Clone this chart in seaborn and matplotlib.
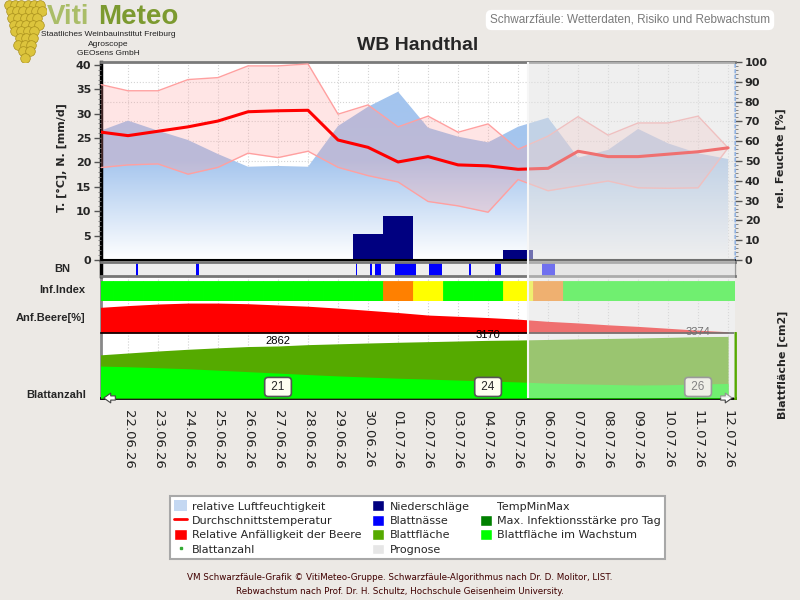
import numpy as np
import seaborn as sns
import matplotlib.pyplot as plt
import matplotlib.transforms as mtransforms
from matplotlib.colors import LinearSegmentedColormap
from matplotlib.patches import Patch
from matplotlib.lines import Line2D
from matplotlib.ticker import MultipleLocator

# --- data --------------------------------------------------------------------
dates = ['21.06.26', '22.06.26', '23.06.26', '24.06.26', '25.06.26', '26.06.26',
         '27.06.26', '28.06.26', '29.06.26', '30.06.26', '01.07.26', '02.07.26',
         '03.07.26', '04.07.26', '05.07.26', '06.07.26', '07.07.26', '08.07.26',
         '09.07.26', '10.07.26', '11.07.26', '12.07.26']
humidity = [64.8, 70.4, 65.3, 60.6, 53.5, 47.1, 47.5, 47.1, 67.7, 77.4, 85.0,
            66.8, 62.3, 59.4, 67.3, 71.9, 51.7, 55.6, 66.2, 58.9, 53.9, 51.0]
temp_mean = [26.3, 25.5, 26.4, 27.3, 28.5, 30.4, 30.6, 30.7, 24.6, 23.1, 20.1,
             21.2, 19.5, 19.3, 18.6, 18.8, 22.3, 21.2, 21.2, 21.7, 22.2, 23.0]
temp_max = [36.1, 34.7, 34.7, 37.0, 37.4, 39.8, 39.8, 40.2, 29.9, 31.8, 27.3,
            29.5, 26.2, 27.9, 22.7, 25.4, 29.4, 25.6, 28.1, 28.1, 29.5, 23.0]
temp_min = [18.9, 19.5, 19.7, 17.6, 19.0, 21.9, 21.0, 22.3, 19.0, 17.3, 16.0,
            12.0, 11.1, 9.8, 16.5, 14.2, 15.2, 16.2, 14.8, 14.7, 14.8, 23.0]
precip = [0, 0, 0, 0, 0, 0, 0, 0, 0, 5.3, 9.0,
          0, 0, 0, 2.1, 0, 0, 0, 0, 0, 0, 0]
# infection index per day: 0 = low (green), 1 = medium (yellow), 2 = high (orange)
inf_index = [0, 0, 0, 0, 0, 0, 0, 0, 0, 0, 2,
             1, 0, 0, 1, 2, 0, 0, 0, 0, 0, 0]
inf_colors = ['#00ff00', '#ffff00', '#ff8000']
# leaf wetness periods (start in days after 22.06., length in days)
bn_start = [0.27, 2.28, 7.6, 8.07, 8.23, 8.9, 10.03, 11.37, 12.23, 13.8]
bn_length = [0.07, 0.1, 0.04, 0.05, 0.2, 0.7, 0.43, 0.07, 0.2, 0.43]
berry_risk = [81, 87, 92, 95, 95, 93, 89, 85, 79, 72, 65,
              57, 53, 49, 44, 37, 32, 26, 21, 15, 9, 4]
leaf_area = [2365, 2475, 2585, 2680, 2760, 2830, 2862, 2935, 2980, 3025, 3065,
             3100, 3135, 3170, 3190, 3220, 3250, 3275, 3300, 3335, 3374, 3390]
leaf_growth = [1760, 1720, 1665, 1610, 1530, 1450, 1370, 1290, 1215, 1150, 1090,
               1040, 985, 935, 885, 820, 780, 745, 715, 730, 770, 800]
count_dates = ['27.06.26', '04.07.26', '11.07.26']
leaf_count = [21, 24, 26]
prognosis_from = 13.33  # 05.07.26 morning

sns.set_style('white')
plt.rcParams['font.family'] = ['DejaVu Sans']

W, H = 800, 600
pos = np.arange(len(dates)) - 1
x0, x1 = -0.9, 20.23


def rect(l, t, r, b):
    return [l / W, 1 - b / H, (r - l) / W, (b - t) / H]


fig = plt.figure(figsize=(8, 6), dpi=100, facecolor='#ece9e5')

# --- main panel: humidity (right) and temperature / rain (left) -------------
ax_h = fig.add_axes(rect(101, 62, 735, 260))
ax_h.set_facecolor('white')
hum_poly = ax_h.fill_between(pos, humidity, 0, color='none', lw=0)
cmap = LinearSegmentedColormap.from_list('hum', ['#ffffff', '#a6c6ee', '#a2c3ee'])
grad = np.linspace(0, 1, 256).reshape(-1, 1)
img = ax_h.imshow(grad, extent=[x0, x1, 0, 100], origin='lower', aspect='auto',
                  cmap=cmap, zorder=1)
img.set_clip_path(hum_poly.get_paths()[0], transform=ax_h.transData)

ax_t = ax_h.twinx()
ax_t.fill_between(pos, temp_min, temp_max, color='#ff9a9a', alpha=0.25, lw=0, zorder=2)
sns.lineplot(x=pos, y=temp_max, ax=ax_t, color='#ffa0a0', linewidth=1)
sns.lineplot(x=pos, y=temp_min, ax=ax_t, color='#ffa0a0', linewidth=1)
sns.lineplot(x=pos, y=temp_mean, ax=ax_t, color='#ff0000', linewidth=2.2)
ax_t.bar(pos, precip, width=1, color='#000080', lw=0, zorder=5)
ax_t.axhline(0, color='black', lw=1.5, clip_on=False, zorder=6)

ax_h.set_xlim(x0, x1)
ax_h.set_ylim(0, 100)
ax_t.set_ylim(0, 40.6)
ax_t.yaxis.tick_left()
ax_t.set_yticks(range(0, 41, 5))
ax_t.yaxis.set_minor_locator(MultipleLocator(1))
ax_h.yaxis.tick_right()
ax_h.set_yticks(range(0, 101, 10))
ax_h.yaxis.set_minor_locator(MultipleLocator(2))
ax_h.set_xticks(pos[1:])
ax_h.tick_params(axis='x', length=0, labelbottom=False)
ax_h.grid(True, ls=':', color='#d4d4d4', lw=0.8)
ax_h.set_axisbelow(True)
for a in (ax_h, ax_t):
    a.tick_params(axis='y', which='major', length=5, width=1, color='#555',
                  labelsize=8, pad=2)
    a.tick_params(axis='y', which='minor', length=2.5, color='#777')
    for lab in a.get_yticklabels():
        lab.set_fontweight('bold')
    a.set_xlabel('')
    a.set_ylabel('')
for s in ax_t.spines.values():
    s.set_visible(False)
ax_h.spines['left'].set(color='black', lw=2.5)
ax_h.spines['top'].set(color='#7a7a7a', lw=2)
ax_h.spines['right'].set(color='#8fb3e6', lw=1.5, ls=':')
ax_h.spines['bottom'].set_visible(False)

# --- lower panel background with date axis ---------------------------------
ax_bg = fig.add_axes(rect(101, 276, 735, 398))
ax_bg.set_facecolor('white')
ax_bg.set_xlim(x0, x1)
ax_bg.set_ylim(0, 1)
ax_bg.set_xticks(pos[1:])
ax_bg.set_xticklabels(dates[1:], rotation=270, ha='center', va='top',
                      fontsize=9.5, color='#222')
ax_bg.xaxis.set_minor_locator(MultipleLocator(0.25))
ax_bg.tick_params(axis='x', which='major', length=4, color='#555', pad=5)
ax_bg.tick_params(axis='x', which='minor', length=2.5, color='#888')
ax_bg.set_yticks([])
ax_bg.grid(axis='x', ls=':', color='#d0d0d0', lw=0.8)
ax_bg.spines['left'].set(color='#888', lw=2)
ax_bg.spines['bottom'].set(color='black', lw=2)
ax_bg.spines[['top', 'right']].set_visible(False)

# leaf wetness strip
ax_bn = fig.add_axes(rect(101, 262, 735, 276))
ax_bn.set_facecolor('#eeeeee')
ax_bn.bar(bn_start, 1, width=bn_length, align='edge', color='#0000ff', lw=0)
ax_bn.set_xlim(x0, x1)
ax_bn.set_ylim(0, 1)
ax_bn.set_xticks([])
ax_bn.set_yticks([])
ax_bn.spines['top'].set(color='#777', lw=2)
ax_bn.spines['bottom'].set(color='#777', lw=2)
ax_bn.spines['left'].set(color='black', lw=2.5)
ax_bn.spines['right'].set(color='#999', lw=1)

# infection index strip
ax_inf = fig.add_axes(rect(101, 281, 735, 300.7))
ax_inf.patch.set_visible(False)
day_cols = [inf_colors[k] for k in inf_index]
ax_inf.bar(pos, 1, width=1, color=day_cols, ec=day_cols, lw=0.6)
ax_inf.set_xlim(x0, x1)
ax_inf.set_ylim(0, 1)
ax_inf.axis('off')

# berry susceptibility strip
ax_anf = fig.add_axes(rect(101, 301.5, 735, 333))
ax_anf.patch.set_visible(False)
ax_anf.fill_between(pos, berry_risk, 0, color='#ff0000', lw=0)
ax_anf.set_xlim(x0, x1)
ax_anf.set_ylim(0, 100)
ax_anf.set_xticks([])
ax_anf.set_yticks([])
ax_anf.spines[['top', 'left', 'right']].set_visible(False)
ax_anf.spines['bottom'].set(color='black', lw=1.2)

# leaf area strip
ax_leaf = fig.add_axes(rect(101, 333, 735, 398))
ax_leaf.patch.set_visible(False)
ax_leaf.fill_between(pos, leaf_area, 0, color='#55aa00', lw=0)
ax_leaf.fill_between(pos, leaf_growth, 0, color='#00ff00', lw=0)
ax_leaf.set_xlim(x0, x1)
ax_leaf.set_ylim(0, 3575)
ax_leaf.set_xticks([])
ax_leaf.set_yticks([])
ax_leaf.spines[['top', 'left', 'bottom']].set_visible(False)
ax_leaf.spines['right'].set(color='#55aa00', lw=2)
blend = mtransforms.blended_transform_factory(ax_leaf.transData, ax_leaf.transAxes)
for d, n in zip(count_dates, leaf_count):
    k = dates.index(d)
    ax_leaf.text(pos[k], leaf_area[k], str(leaf_area[k]), ha='center', va='bottom',
                 fontsize=8, family='Liberation Sans', color='black')
    ax_leaf.text(pos[k], 0.17, f' {n} ', transform=blend, ha='center', va='center',
                 fontsize=8.5, family='Liberation Sans',
                 bbox=dict(boxstyle='round,pad=0.3', fc='#fffff0', ec='#555', lw=1.2))
arrow = dict(arrowstyle='simple,head_length=0.5,head_width=0.7,tail_width=0.3',
             fc='white', ec='#444', lw=0.8)
ax_leaf.annotate('', xy=(0.0, 0), xytext=(0.027, 0), xycoords='axes fraction',
                 arrowprops=arrow, annotation_clip=False)
ax_leaf.annotate('', xy=(1.0, 0), xytext=(0.973, 0), xycoords='axes fraction',
                 arrowprops=arrow, annotation_clip=False)

# prognosis overlay across all panels
ax_ov = fig.add_axes(rect(101, 62, 735, 398), zorder=10)
ax_ov.set_xlim(x0, x1)
ax_ov.axis('off')
ax_ov.axvspan(prognosis_from, x1, color='#e0e0e0', alpha=0.5, lw=0)
ax_ov.axvline(prognosis_from, color='#f6f6f6', lw=1.5)

# --- labels -------------------------------------------------------------------
fig.text(62 / W, 1 - 158 / H, 'T. [°C], N. [mm/d]', rotation=90, ha='center',
         va='center', fontsize=8, fontweight='bold')
fig.text(781 / W, 1 - 158 / H, 'rel. Feuchte [%]', rotation=90, ha='center',
         va='center', fontsize=8, fontweight='bold')
fig.text(783 / W, 1 - 365 / H, 'Blattfläche [cm2]', rotation=90, ha='center',
         va='center', fontsize=8, fontweight='bold')
strip_font = dict(fontsize=8, fontweight='bold', family='Liberation Sans', va='center')
fig.text(62 / W, 1 - 269 / H, 'BN', ha='center', **strip_font)
fig.text(85 / W, 1 - 290 / H, 'Inf.Index', ha='right', **strip_font)
fig.text(85 / W, 1 - 318 / H, 'Anf.Beere[%]', ha='right', **strip_font)
fig.text(86 / W, 1 - 395 / H, 'Blattanzahl', ha='right', **strip_font)

fig.text(418 / W, 1 - 45 / H, 'WB Handthal', ha='center', va='center', fontsize=14,
         fontweight='bold', family='Liberation Sans')
fig.text(630 / W, 1 - 20 / H, 'Schwarzfäule: Wetterdaten, Risiko und Rebwachstum',
         ha='center', va='center', fontsize=8.5, color='#7a7a7a',
         family='Liberation Sans',
         bbox=dict(boxstyle='round,pad=0.35,rounding_size=0.5', fc='white', ec='none'))

# logo
fig.text(47 / W, 1 - 24 / H, 'Viti', fontsize=20, fontweight='bold',
         color='#aabd68', family='Liberation Sans', va='baseline')
fig.text(98 / W, 1 - 24 / H, 'Meteo', fontsize=20, fontweight='bold',
         color='#7c9a30', family='Liberation Sans', va='baseline')
for txt, yy in [('Staatliches Weinbauinstitut Freiburg', 34.5), ('Agroscope', 44),
                ('GEOsens GmbH', 53.5)]:
    fig.text(108 / W, 1 - yy / H, txt, ha='center', va='center', fontsize=6,
             family='Liberation Sans', color='#222')
ax_g = fig.add_axes(rect(3, 0, 46, 62))
ax_g.axis('off')
gx, gy = [], []
for r, n in enumerate([6, 6, 5, 5, 4, 3, 3, 2, 1]):
    for c in range(n):
        gx.append(c - (n - 1) / 2 + (0.3 if r % 2 else 0))
        gy.append(r)
ax_g.scatter(gx, gy, s=48, c='#dcc43c', edgecolors='#a88f1c', lw=0.5)
ax_g.set_xlim(-3.4, 3.4)
ax_g.set_ylim(8.6, -0.7)

# legend
handles = [
    Patch(fc='#c4d8f2', ec='none'), Line2D([], [], color='red', lw=2),
    Patch(fc='#ff0000'), Line2D([], [], marker='s', ms=1.5, color='#33aa33', ls='none'),
    Patch(fc='#000080'), Patch(fc='#0000ff'), Patch(fc='#55aa00'), Patch(fc='#e6e6e6'),
    Patch(fc='none', ec='none'), Patch(fc='#008000'), Patch(fc='#00ff00'),
]
labels = ['relative Luftfeuchtigkeit', 'Durchschnittstemperatur',
          'Relative Anfälligkeit der Beere', 'Blattanzahl',
          'Niederschläge', 'Blattnässe', 'Blattfläche', 'Prognose',
          'TempMinMax', 'Max. Infektionsstärke pro Tag', 'Blattfläche im Wachstum']
leg = fig.legend(handles, labels, ncol=3, loc='upper left',
                 bbox_to_anchor=(170 / W, 1 - 496 / H), fontsize=8, frameon=True,
                 fancybox=False, edgecolor='#a8a8a8', framealpha=1,
                 handlelength=1.1, handleheight=1.1, handletextpad=0.5,
                 labelspacing=0.3, columnspacing=0.9, borderpad=0.4,
                 borderaxespad=0)
leg.get_frame().set_linewidth(1.5)

fig.text(0.5, 1 - 578 / H, 'VM Schwarzfäule-Grafik © VitiMeteo-Gruppe. '
         'Schwarzfäule-Algorithmus nach Dr. D. Molitor, LIST.',
         ha='center', va='center', fontsize=6.3, color='#400000')
fig.text(0.5, 1 - 591 / H, 'Rebwachstum nach Prof. Dr. H. Schultz, '
         'Hochschule Geisenheim University.',
         ha='center', va='center', fontsize=6.3, color='#400000')

fig.savefig('out.png', dpi=100, facecolor=fig.get_facecolor())
